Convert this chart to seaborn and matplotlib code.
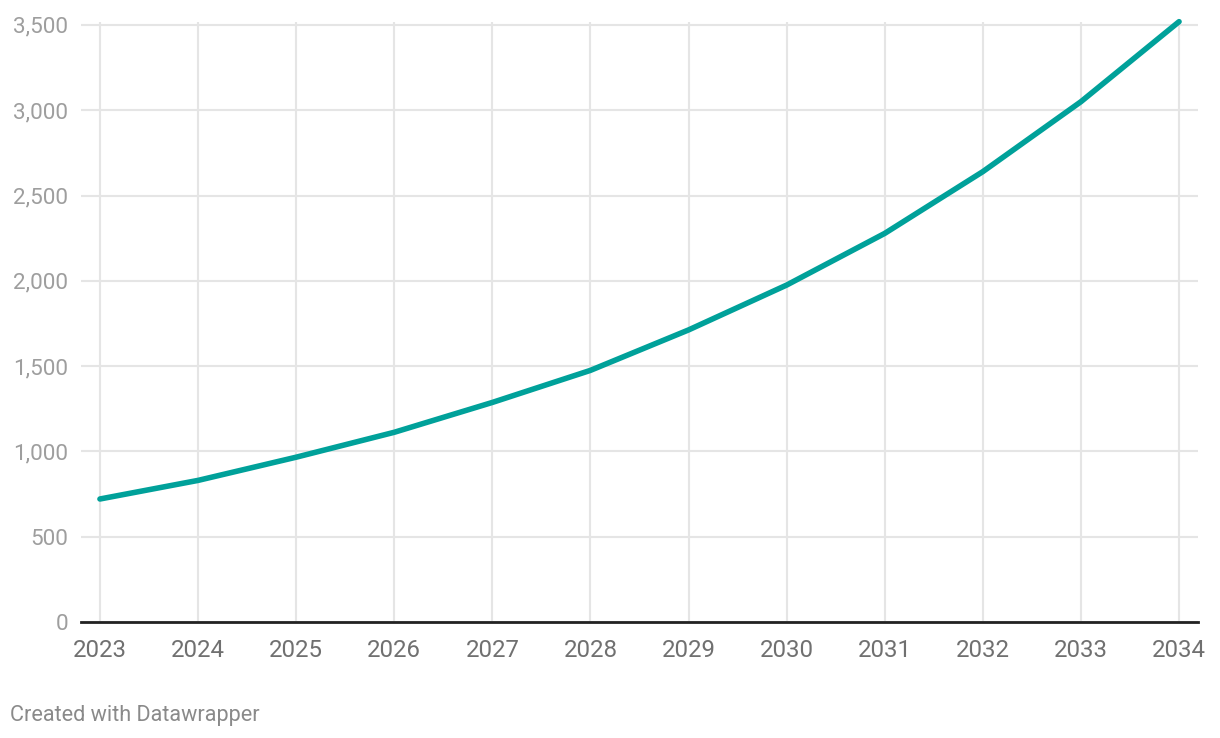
import matplotlib
matplotlib.use("Agg")
import matplotlib.pyplot as plt
import seaborn as sns
import pandas as pd
from matplotlib.ticker import FuncFormatter

years = [2023, 2024, 2025, 2026, 2027, 2028, 2029, 2030, 2031, 2032, 2033, 2034]
values = [721, 830, 966, 1112, 1287, 1475, 1712, 1975, 2278, 2640, 3050, 3519]
y_ticks = [0, 500, 1000, 1500, 2000, 2500, 3000, 3500]

sns.set_style("white")
plt.rcParams['font.family'] = ['Roboto', 'DejaVu Sans']

df = pd.DataFrame({"year": years, "value": values})

fig = plt.figure(figsize=(12.2, 7.38), dpi=100)
ax = fig.add_axes([81/1220, 1 - 622/738, (1198 - 81)/1220, (622 - 22)/738])

sns.lineplot(data=df, x="year", y="value", ax=ax, color="#00A19A", linewidth=4.0,
             solid_capstyle="round", solid_joinstyle="round", clip_on=False, zorder=5)

ax.set_xlim(years[0] - 0.193, years[-1] + 0.193)
ax.set_ylim(0, 3517)
ax.set_xticks(years)
ax.set_yticks(y_ticks)
ax.yaxis.set_major_formatter(FuncFormatter(lambda v, p: f"{int(v):,}"))
ax.grid(True, color="#e5e5e5", linewidth=1.5)
ax.set_axisbelow(True)
for s in ["top", "right", "left"]:
    ax.spines[s].set_visible(False)
ax.spines["bottom"].set_color("#222222")
ax.spines["bottom"].set_linewidth(2)
ax.spines["bottom"].set_zorder(6)
ax.tick_params(axis="both", length=0)
ax.tick_params(axis="y", labelsize=16.2, labelcolor="#9e9e9e", pad=9)
ax.tick_params(axis="x", labelsize=17.3, labelcolor="#707070", pad=12)
ax.set_xlabel("")
ax.set_ylabel("")

fig.text(10/1220, 1 - 715/738, "Created with Datawrapper", fontsize=15.6, color="#8a8a8a",
         ha="left", va="center")

fig.savefig("out.png", dpi=100, facecolor="white")
